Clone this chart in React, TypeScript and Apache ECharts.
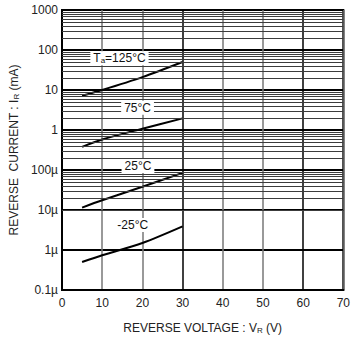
import React, { useEffect, useRef } from "react";
import * as echarts from "echarts";

const voltages = [5, 10, 20, 30];
const ir125 = [7.2, 10, 21, 50];
const ir75 = [0.38, 0.58, 1.08, 1.95];
const ir25 = [0.0115, 0.0175, 0.038, 0.085];
const irM25 = [0.0005, 0.00074, 0.0015, 0.0039];

const yTickLabels: Record<string, string> = {
  "-4": "0.1µ",
  "-3": "1µ",
  "-2": "10µ",
  "-1": "100µ",
  "0": "1",
  "1": "10",
  "2": "100",
  "3": "1000",
};

const curveLabels = [
  { x: 14.3, y: 62, text: "T{s|a}=125°C" },
  { x: 18.8, y: 3.6, text: "75°C" },
  { x: 18.9, y: 0.125, text: "25°C" },
  { x: 17.6, y: 0.0042, text: "-25°C" },
];

const decades = [-4, -3, -2, -1, 0, 1, 2];
const minorMults = [2, 3, 4, 5, 6, 7, 8, 9];

const FONT = "Liberation Sans, Arial, sans-serif";

export default function App() {
  const ref = useRef<HTMLDivElement>(null);
  useEffect(() => {
    if (!ref.current) return;
    const chart = echarts.init(ref.current, null, { renderer: "svg" });
    const minorVals: number[] = [];
    decades.forEach((d) => minorMults.forEach((m) => minorVals.push(m * Math.pow(10, d))));
    const mkCurve = (data: number[]) => ({
      type: "line",
      data: voltages.map((v, i) => [v, data[i]]),
      smooth: 0.3,
      showSymbol: false,
      lineStyle: { color: "#000", width: 2 },
      z: 4,
    });
    const sub = { fontSize: 8, verticalAlign: "bottom", padding: [4, 0, 0, 0], fontFamily: FONT, color: "#222" };
    chart.setOption({
      animation: false,
      grid: {
        left: 62,
        right: 8,
        top: 10,
        bottom: 59,
        show: true,
        borderColor: "#000",
        borderWidth: 2,
      },
      xAxis: {
        type: "value",
        min: 0,
        max: 70,
        interval: 10,
        name: "REVERSE VOLTAGE : V{s|R} (V)",
        nameLocation: "middle",
        nameGap: 32,
        nameTextStyle: { fontFamily: FONT, fontSize: 12, color: "#222", rich: { s: sub } },
        axisLine: { show: true, lineStyle: { color: "#000", width: 2 } },
        axisTick: { show: false },
        axisLabel: { fontFamily: FONT, fontSize: 12, color: "#222", margin: 7 },
        splitLine: {
          show: true,
          lineStyle: { color: ["#000", "#777", "#777"], width: 1.5 },
        },
      },
      yAxis: {
        type: "log",
        logBase: 10,
        min: 0.0001,
        max: 1000,
        interval: 1,
        name: "REVERSE  CURRENT : I{s|R} (mA)",
        nameLocation: "middle",
        nameGap: 40,
        nameTextStyle: { fontFamily: FONT, fontSize: 12, color: "#222", rich: { s: sub } },
        axisLine: { show: true, lineStyle: { color: "#000", width: 2 } },
        axisTick: { show: false },
        axisLabel: {
          fontFamily: FONT,
          fontSize: 12,
          color: "#222",
          margin: 4,
          formatter: (v: number) => yTickLabels[String(Math.round(Math.log10(v)))] ?? "",
        },
        splitLine: { show: true, lineStyle: { color: "#000", width: 2 } },
      },
      series: [
        {
          type: "line",
          data: [],
          silent: true,
          z: 1,
          markLine: {
            silent: true,
            symbol: ["none", "none"],
            label: { show: false },
            lineStyle: { color: "#3c3c3c", width: 1.2, type: "solid" },
            data: minorVals.map((v) => ({ yAxis: v })),
          },
        },
        mkCurve(ir125),
        mkCurve(ir75),
        mkCurve(ir25),
        mkCurve(irM25),
        {
          type: "line",
          data: [],
          z: 6,
          markPoint: {
            symbol: "rect",
            symbolSize: 0,
            data: curveLabels.map((l) => ({ coord: [l.x, l.y], value: l.text })),
            label: {
              show: true,
              position: "inside",
              formatter: (p: any) => p.value,
              backgroundColor: "#fff",
              padding: [1, 3],
              color: "#111",
              fontFamily: FONT,
              fontSize: 12,
              rich: { s: { ...sub, color: "#111" } },
            },
          },
        },
      ],
    });
    return () => chart.dispose();
  }, []);
  return (
    <div
      ref={ref}
      style={{ position: "fixed", left: 0, top: 0, width: 353, height: 349, background: "#fff" }}
    />
  );
}
